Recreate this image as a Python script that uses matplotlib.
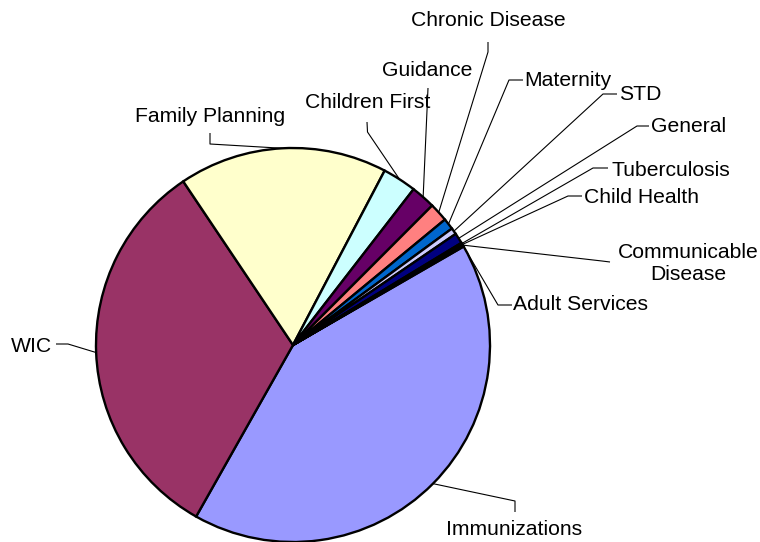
import numpy as np
import matplotlib
matplotlib.use("Agg")
import matplotlib.pyplot as plt

plt.rcParams['font.family'] = ['Liberation Sans', 'DejaVu Sans']

# ---- data ----
categories = ["Immunizations", "WIC", "Family Planning", "Children First", "Guidance",
              "Chronic Disease", "Maternity", "STD", "General", "Tuberculosis",
              "Child Health", "Communicable\nDisease", "Adult Services"]
values = [41.5, 32.4, 17.1, 2.78, 2.0, 1.53, 0.92, 0.53, 0.86, 0.12, 0.06, 0.06, 0.10]
colors = ["#9999FF", "#993366", "#FFFFCC", "#CCFFFF", "#660066", "#FF8080", "#0066CC",
          "#CCCCFF", "#000080", "#FF00FF", "#FFFF00", "#00FFFF", "#800080"]

# ---- layout (pixel coordinates, y measured from top) ----
W, H = 760, 542
CX, CY, R = 293, 345, 197
# text position (x, baseline y), horizontal alignment, leader polyline points (label end first)
label_layout = [
    ((514, 535), 'center', [(515, 512), (515, 501)]),          # Immunizations
    ((52, 352), 'right', [(56, 344), (68, 344)]),               # WIC
    ((210, 121.5), 'center', [(210, 133), (210, 144)]),         # Family Planning
    ((368, 108.5), 'center', [(367, 122), (367.5, 132)]),       # Children First
    ((427, 76.5), 'center', [(428, 88)]),                       # Guidance
    ((488, 26.5), 'center', [(488, 42), (488, 52)]),            # Chronic Disease
    ((524, 86.5), 'left', [(523, 80), (509, 80)]),              # Maternity
    ((619, 100), 'left', [(617, 94), (603, 94)]),               # STD
    ((651, 131.5), 'left', [(649, 126), (637, 126)]),           # General
    ((611, 175.5), 'left', [(608, 168), (593, 168)]),           # Tuberculosis
    ((584, 203), 'left', [(582, 196), (568, 196)]),             # Child Health
    ((688, 280), 'center', [(610, 262), (602, 261)]),           # Communicable Disease
    ((513, 310.5), 'left', [(512, 305), (498, 305)]),           # Adult Services
]

def P(x, y):
    return x, H - y

fig = plt.figure(figsize=(W / 100, H / 100), dpi=100)
ax = fig.add_axes([0, 0, 1, 1])

wedges, _ = ax.pie(values, colors=colors, startangle=30, counterclock=False,
                   center=P(CX, CY), radius=R, normalize=True,
                   wedgeprops=dict(edgecolor='black', linewidth=1.7))

fs = 15.2
for w, name, (tpos, ha, pts) in zip(wedges, categories, label_layout):
    mid = np.deg2rad((w.theta1 + w.theta2) / 2)
    ax_pt = (CX + R * np.cos(mid), CY - R * np.sin(mid))
    poly = [P(*p) for p in pts] + [P(*ax_pt)]
    xs, ys = zip(*poly)
    ax.plot(xs, ys, color='black', lw=0.8, solid_capstyle='butt', zorder=5)
    tx, ty = P(*tpos)
    ax.text(tx, ty, name, ha=ha, va='baseline', fontsize=fs, color='black',
            linespacing=1.2, multialignment='center')

ax.set_xlim(0, W)
ax.set_ylim(0, H)
ax.set_aspect('equal')
ax.axis('off')
fig.savefig("out.png", dpi=100)
